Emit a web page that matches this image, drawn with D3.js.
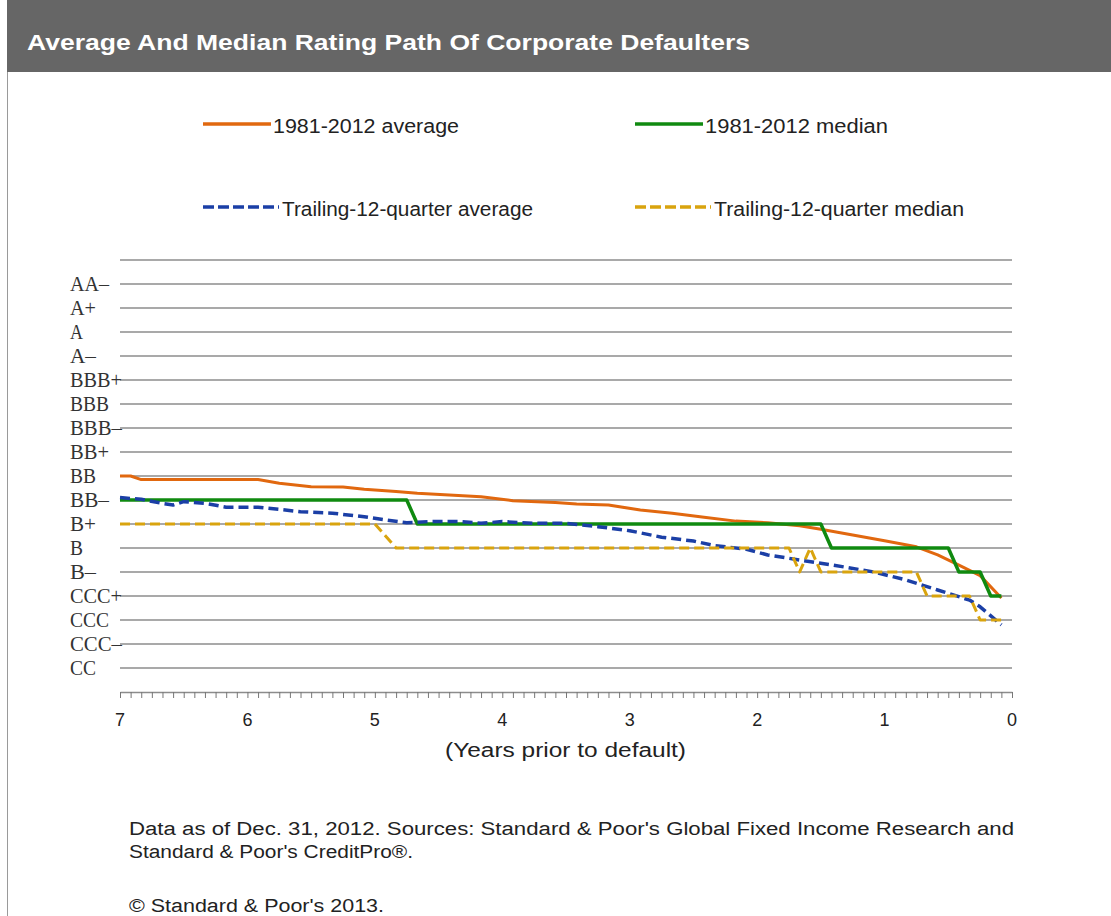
<!DOCTYPE html>
<html>
<head>
<meta charset="utf-8">
<script src="https://cdn.jsdelivr.net/npm/d3@7"></script>
<style>
  body { margin: 0; background: #fff; }
</style>
</head>
<body>
<div id="chart"></div>
<script>
// rating scale: CC = 1 ... AA- = 17 (18 = top line, no label)
var ratingLabels = ["CC","CCC–","CCC","CCC+","B–","B","B+","BB–","BB","BB+","BBB–","BBB","BBB+","A–","A","A+","AA–"];

// x: months prior to default, y: rating score
var avg8112 = [[84,9.0],[83,9.0],[82,8.85],[71,8.85],[69,8.7],[66,8.55],[63,8.54],[61,8.45],[58,8.35],[56,8.28],[53,8.21],[50,8.14],[47,7.97],[43,7.9],[41,7.83],[38,7.79],[35,7.58],[32,7.45],[29,7.28],[26,7.12],[23,7.05],[20,6.93],[18,6.78],[15,6.54],[12,6.3],[9,6.05],[7,5.71],[5,5.29],[3,4.85],[1,3.92]];
var med8112 = [[84,8],[57,8],[56,7],[18,7],[17,6],[6,6],[5,5],[3,5],[2,4],[1,4]];
var avgT12 = [[84,8.1],[82,8.03],[80,7.86],[79,7.79],[78,7.93],[76,7.86],[74,7.7],[71,7.7],[69,7.61],[67,7.51],[64,7.45],[61,7.3],[59,7.17],[57,7.05],[55,7.1],[52,7.1],[50,7.03],[48,7.1],[45,7.03],[42,7.03],[39,6.89],[36,6.72],[33,6.45],[30,6.29],[28,6.1],[25,5.95],[23,5.71],[20,5.5],[17,5.3],[13,5.0],[10,4.67],[7,4.25],[4,3.83],[3,3.55],[1,2.8]];
var medT12 = [[84,7],[60,7],[58,6],[21,6],[20,5],[19,6],[18,5],[9,5],[8,4],[4,4],[3,3],[1,3]];

var yearTicks = [7,6,5,4,3,2,1,0];

var series = [
  {name:"1981-2012 average", data:avg8112, color:"#e1680f", dash:null, w:3, tl:186},
  {name:"1981-2012 median", data:med8112, color:"#108a10", dash:null, w:3.5, tl:183},
  {name:"Trailing-12-quarter average", data:avgT12, color:"#1b3fa6", dash:"10,5", w:3.5, tl:251},
  {name:"Trailing-12-quarter median", data:medT12, color:"#d9a40e", dash:"10,5", w:3, tl:250}
];

var sans = "'Liberation Sans', Arial, sans-serif";
var W = 1111, H = 916;
var svg = d3.select("#chart").append("svg").attr("width",W).attr("height",H)
  .style("font-family",sans);

// frame + header
svg.append("rect").attr("x",7.5).attr("y",0.5).attr("width",W).attr("height",H)
  .attr("fill","#fff").attr("stroke","#9a9a9a");
svg.append("rect").attr("x",7).attr("y",0).attr("width",W).attr("height",72).attr("fill","#666666");
svg.append("text").attr("x",27).attr("y",50)
  .attr("fill","#fff").attr("font-size",22).attr("font-weight","bold")
  .attr("textLength",723).attr("lengthAdjust","spacingAndGlyphs")
  .text("Average And Median Rating Path Of Corporate Defaulters");

var x = d3.scaleLinear().domain([7,0]).range([120,1012]);
var y = d3.scaleLinear().domain([0,18]).range([692,260]);

// gridlines
svg.append("g").selectAll("line").data(d3.range(1,19)).join("line")
  .attr("x1",x(7)).attr("x2",x(0))
  .attr("y1",d=>y(d)).attr("y2",d=>y(d))
  .attr("stroke","#8c8c8c").attr("stroke-width",1.3);

// rating labels (courier look -> serif, stretched to ~13px a char)
svg.append("g").selectAll("text").data(ratingLabels).join("text")
  .attr("x",70).attr("y",(d,i)=>y(i+1))
  .attr("dy","0.36em")
  .style("font-family","'Liberation Serif','DejaVu Serif',serif")
  .attr("font-size",20)
  .attr("fill","#333")
  .attr("textLength",d=>d.length*13).attr("lengthAdjust","spacingAndGlyphs")
  .text(d=>d);

// x axis, monthly ticks
var xAxis = svg.append("g").attr("transform","translate(0,"+y(0)+")")
  .call(d3.axisBottom(x).tickValues(d3.range(0,85).map(m=>m/12)).tickSize(6).tickSizeOuter(0).tickFormat(""));
xAxis.select(".domain").attr("stroke","#8c8c8c").attr("stroke-width",1.3);
xAxis.selectAll(".tick line").attr("stroke","#777");

svg.append("g").selectAll("text").data(yearTicks).join("text")
  .attr("x",d=>x(d)).attr("y",726)
  .attr("text-anchor","middle").attr("font-size",18).attr("fill","#222")
  .text(d=>d);

svg.append("text").attr("x",445).attr("y",757)
  .attr("font-size",20).attr("fill","#222")
  .attr("textLength",241).attr("lengthAdjust","spacingAndGlyphs")
  .text("(Years prior to default)");

// the lines
var line = d3.line().x(d=>x(d[0]/12)).y(d=>y(d[1]));
svg.append("g").selectAll("path").data(series).join("path")
  .attr("d",d=>line(d.data))
  .attr("fill","none")
  .attr("stroke",d=>d.color)
  .attr("stroke-width",d=>d.w)
  .attr("stroke-dasharray",d=>d.dash)
  .attr("stroke-linejoin","round");

// legend (2 x 2)
var legPos = [[203,124],[635,124],[203,207],[635,207]];
var leg = svg.append("g").selectAll("g").data(series).join("g")
  .attr("transform",(d,i)=>"translate("+legPos[i][0]+","+legPos[i][1]+")");
leg.append("line").attr("x1",0).attr("x2",d=>d.dash ? 76 : 68)
  .attr("stroke",d=>d.color).attr("stroke-width",3.5)
  .attr("stroke-dasharray",d=>d.dash ? "11,4" : null);
leg.append("text").attr("x",d=>d.dash ? 79 : 70).attr("y",2).attr("dy","0.36em")
  .attr("font-size",20).attr("fill","#222")
  .attr("textLength",d=>d.tl).attr("lengthAdjust","spacingAndGlyphs")
  .text(d=>d.name);

// notes
var notes = svg.append("g").attr("font-size",18).attr("fill","#222");
notes.append("text").attr("x",129).attr("y",835)
  .attr("textLength",885).attr("lengthAdjust","spacingAndGlyphs")
  .text("Data as of Dec. 31, 2012. Sources: Standard & Poor's Global Fixed Income Research and");
notes.append("text").attr("x",129).attr("y",858)
  .attr("textLength",284).attr("lengthAdjust","spacingAndGlyphs")
  .text("Standard & Poor's CreditPro®.");
notes.append("text").attr("x",129).attr("y",912)
  .attr("textLength",255).attr("lengthAdjust","spacingAndGlyphs")
  .text("© Standard & Poor's 2013.");
</script>
</body>
</html>
